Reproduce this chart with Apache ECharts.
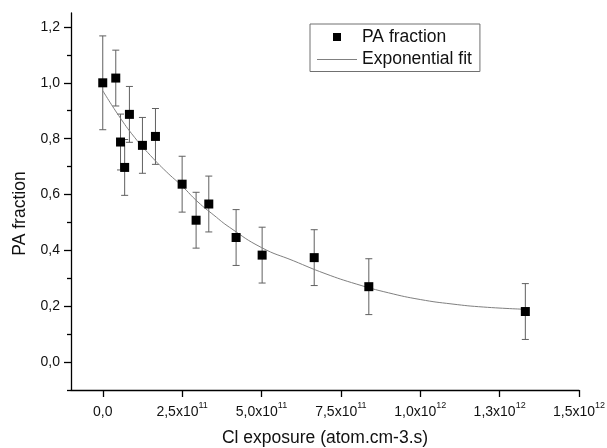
<!DOCTYPE html>
<html>
<head>
<meta charset="utf-8">
<script src="https://cdn.jsdelivr.net/npm/echarts@6/dist/echarts.min.js"></script>
<style>html,body{margin:0;padding:0;background:#fff}#c{width:607px;height:448px}</style>
</head>
<body>
<div id="c"></div>
<script>
// Measured data (PA fraction vs Cl exposure)
const exposure = [0, 0.41e11, 0.56e11, 0.69e11, 0.84e11, 1.25e11, 1.66e11, 2.50e11, 2.94e11, 3.34e11, 4.20e11, 5.02e11, 6.66e11, 8.38e11, 1.331e12];
const paFraction = [1.00, 1.017, 0.788, 0.697, 0.887, 0.776, 0.808, 0.637, 0.508, 0.566, 0.446, 0.383, 0.374, 0.270, 0.181];
const paError = [0.168, 0.10, 0.10, 0.10, 0.10, 0.10, 0.10, 0.10, 0.10, 0.10, 0.10, 0.10, 0.10, 0.10, 0.10];

// Exponential fit curve
const fitX = [0, 0.5e11, 1.0e11, 1.5e11, 2.0e11, 2.5e11, 3.0e11, 3.5e11, 4.0e11, 5.0e11, 6.0e11, 7.0e11, 8.0e11, 9.0e11, 1.0e12, 1.1e12, 1.2e12, 1.331e12];
const fitY = [0.972, 0.883, 0.805, 0.740, 0.682, 0.630, 0.573, 0.526, 0.482, 0.410, 0.363, 0.317, 0.279, 0.248, 0.224, 0.208, 0.197, 0.189];

// Tick labels
const xTickValues = [0, 2.5e11, 5.0e11, 7.5e11, 1.0e12, 1.25e12, 1.5e12];
const xTickMantissa = ['0,0', '2,5', '5,0', '7,5', '1,0', '1,3', '1,5'];
const xTickExponent = ['', '11', '11', '11', '12', '12', '12'];
const yTickValues = [0, 0.2, 0.4, 0.6, 0.8, 1.0, 1.2];
const yTickLabels = ['0,0', '0,2', '0,4', '0,6', '0,8', '1,0', '1,2'];
const yMinorTicks = [-0.1, 0.1, 0.3, 0.5, 0.7, 0.9, 1.1];

const FONT = "'Liberation Sans', Arial, sans-serif";

const scatterData = exposure.map((x, i) => [x, paFraction[i]]);
const errData = exposure.map((x, i) => [x, paFraction[i], paError[i]]);
const fitData = fitX.map((x, i) => [x, fitY[i]]);

const tickLine = {color: '#000', width: 1.3};
const X_RANGE = {min: -1e11, max: 1.5e12};
const Y_RANGE = {min: -0.1, max: 1.25};

const chart = echarts.init(document.getElementById('c'), null, {renderer: 'canvas'});
chart.setOption({
  animation: false,
  backgroundColor: '#fff',
  textStyle: {fontFamily: FONT},
  grid: {left: 71, right: 28, top: 13, bottom: 58, outerBoundsMode: 'none'},
  legend: {
    orient: 'vertical',
    left: 310, top: 24,
    padding: [4, 8, 3, 7],
    itemGap: 4.5,
    itemWidth: 40, itemHeight: 18,
    borderColor: '#707070', borderWidth: 1,
    textStyle: {fontFamily: FONT, fontSize: 17.5, color: '#111'},
    data: [
      {name: 'PA fraction', icon: 'path://M0,0L0.001,0Z M40,18L39.999,18Z M16,5h8v8h-8Z'},
      {name: 'Exponential fit', icon: 'path://M0,0L0.001,0Z M40,18L39.999,18Z M0,8.5h40v1h-40Z'}
    ]
  },
  xAxis: [{
    type: 'value',
    position: 'bottom',
    min: X_RANGE.min, max: X_RANGE.max,
    name: 'Cl exposure (atom.cm-3.s)',
    nameLocation: 'middle', nameGap: 39,
    nameTextStyle: {fontFamily: FONT, fontSize: 17.5, color: '#111'},
    axisLine: {show: true, onZero: false, lineStyle: tickLine},
    axisTick: {show: false},
    axisLabel: {
      show: true, margin: 11, customValues: xTickValues,
      formatter: function (v) {
        const i = xTickValues.findIndex(t => Math.abs(t - v) < 1e6);
        if (i < 0) return '';
        if (!xTickExponent[i]) return '{b|' + xTickMantissa[i] + '}';
        return '{b|' + xTickMantissa[i] + 'x10}{s|' + xTickExponent[i] + '}';
      },
      rich: {
        b: {fontFamily: FONT, fontSize: 14, color: '#111', lineHeight: 18, verticalAlign: 'bottom'},
        s: {fontFamily: FONT, fontSize: 9, color: '#111', lineHeight: 18, verticalAlign: 'top'}
      }
    },
    splitLine: {show: false}
  }, {
    type: 'value',
    position: 'bottom',
    offset: 0,
    min: X_RANGE.min, max: X_RANGE.max,
    axisLine: {show: false, onZero: false},
    axisTick: {show: true, inside: false, length: 7, customValues: xTickValues, lineStyle: tickLine},
    axisLabel: {show: false},
    splitLine: {show: false}
  }],
  yAxis: [{
    type: 'value',
    position: 'left',
    min: Y_RANGE.min, max: Y_RANGE.max,
    name: 'PA fraction',
    nameLocation: 'middle', nameGap: 42,
    nameTextStyle: {fontFamily: FONT, fontSize: 17.5, color: '#111', padding: [0, 24, 0, 0]},
    axisLine: {show: true, onZero: false, lineStyle: tickLine},
    axisTick: {show: false},
    axisLabel: {
      show: true, margin: 11, customValues: yTickValues,
      fontFamily: FONT, fontSize: 14, color: '#111',
      formatter: function (v) {
        const i = yTickValues.findIndex(t => Math.abs(t - v) < 1e-6);
        return i < 0 ? '' : yTickLabels[i];
      }
    },
    splitLine: {show: false}
  }, {
    type: 'value',
    position: 'left',
    offset: 0,
    min: Y_RANGE.min, max: Y_RANGE.max,
    axisLine: {show: false, onZero: false},
    axisTick: {show: true, inside: false, length: 4, customValues: yMinorTicks, lineStyle: tickLine},
    axisLabel: {show: false},
    splitLine: {show: false}
  }, {
    type: 'value',
    position: 'left',
    offset: 0,
    min: Y_RANGE.min, max: Y_RANGE.max,
    axisLine: {show: false, onZero: false},
    axisTick: {show: true, inside: false, length: 7, customValues: yTickValues, lineStyle: tickLine},
    axisLabel: {show: false},
    splitLine: {show: false}
  }],
  series: [
    {
      name: 'errors',
      type: 'custom',
      data: errData,
      encode: {x: 0, y: 1},
      silent: true,
      z: 1,
      renderItem: function (params, api) {
        const x = api.value(0), y = api.value(1), e = api.value(2);
        const top = api.coord([x, y + e]);
        const bot = api.coord([x, y - e]);
        const hw = 3.5;
        const style = {stroke: '#606060', lineWidth: 1};
        return {
          type: 'group',
          children: [
            {type: 'line', shape: {x1: top[0], y1: top[1], x2: bot[0], y2: bot[1]}, style: style},
            {type: 'line', shape: {x1: top[0] - hw, y1: top[1], x2: top[0] + hw, y2: top[1]}, style: style},
            {type: 'line', shape: {x1: bot[0] - hw, y1: bot[1], x2: bot[0] + hw, y2: bot[1]}, style: style}
          ]
        };
      }
    },
    {
      name: 'Exponential fit',
      type: 'line',
      data: fitData,
      smooth: true,
      symbol: 'none',
      showSymbol: false,
      z: 2,
      lineStyle: {color: '#808080', width: 1},
      itemStyle: {color: '#808080'}
    },
    {
      name: 'PA fraction',
      type: 'scatter',
      data: scatterData,
      symbol: 'rect',
      symbolSize: 9,
      z: 3,
      itemStyle: {color: '#000', opacity: 1}
    }
  ]
});
</script>
</body>
</html>
